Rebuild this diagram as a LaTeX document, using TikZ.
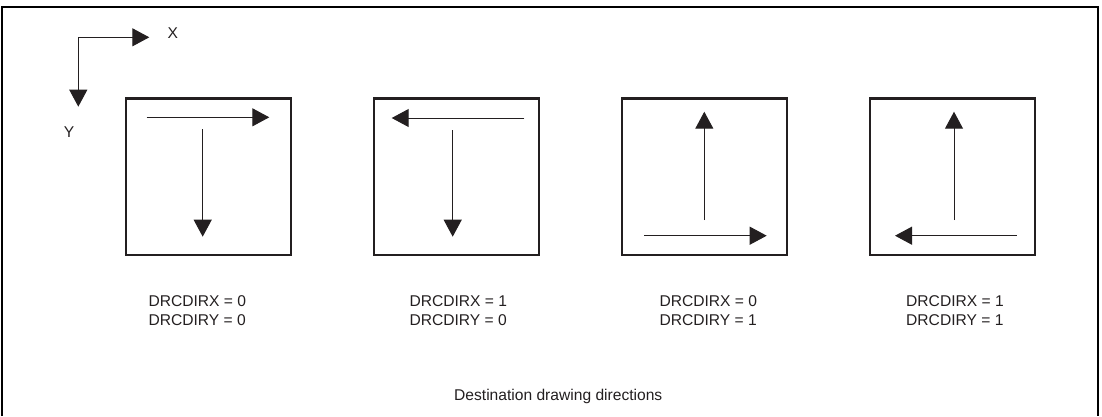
\documentclass[tikz,border=0pt]{standalone}
\usepackage{fontspec}
\setmainfont{Liberation Sans}
\usetikzlibrary{arrows.meta}
\definecolor{ink}{HTML}{231F20}
\begin{document}
\begin{tikzpicture}[x=1pt,y=-1pt,
  font=\fontsize{15.6pt}{18.3pt}\selectfont,
  every node/.style={text=ink},
  frame/.style={draw=black,line width=2.4pt},
  dirbox/.style={draw=ink,line width=2.4pt,inner sep=0pt,minimum width=165pt,minimum height=156.5pt},
  dirarrow/.style={draw=ink,line width=1pt,-{Triangle[length=17pt,width=18pt]}},
  lbl/.style={anchor=base west,inner sep=0pt}]
\useasboundingbox (0,0) rectangle (1102,416);
% outer frame (open at the bottom)
\draw[frame] (2,416) -- (2,7) -- (1098,7) -- (1098,416);
% axes
\coordinate (ax0) at (78.3,37.3);
\coordinate (axX) at (149.3,37.3);
\coordinate (axY) at (78.3,106.7);
\draw[dirarrow] (ax0) -- (axX);
\draw[dirarrow] (ax0) -- (axY);
\node[inner sep=0pt] (lx) at (172.7,33) {X};
\node[inner sep=0pt] (ly) at (69,131.7) {Y};
% boxes
\node[dirbox] (b1) at (208.3,176.7) {};
\node[dirbox] (b2) at (456.2,176.7) {};
\node[dirbox] (b3) at (704.2,176.7) {};
\node[dirbox] (b4) at (952.2,176.7) {};
% box 1
\coordinate (h1a) at (146.7,117.3); \coordinate (h1b) at (269.3,117.3);
\coordinate (v1a) at (202.7,129.3); \coordinate (v1b) at (202.7,236.7);
\draw[dirarrow] (h1a) -- (h1b);
\draw[dirarrow] (v1a) -- (v1b);
% box 2
\coordinate (h2a) at (524.3,118); \coordinate (h2b) at (391.7,118);
\coordinate (v2a) at (452.7,130); \coordinate (v2b) at (452.7,236.7);
\draw[dirarrow] (h2a) -- (h2b);
\draw[dirarrow] (v2a) -- (v2b);
% box 3
\coordinate (h3a) at (644.3,235.7); \coordinate (h3b) at (766.7,235.7);
\coordinate (v3a) at (704.3,220); \coordinate (v3b) at (704.3,111.7);
\draw[dirarrow] (h3a) -- (h3b);
\draw[dirarrow] (v3a) -- (v3b);
% box 4
\coordinate (h4a) at (1016.7,235.7); \coordinate (h4b) at (895,235.7);
\coordinate (v4a) at (954,220); \coordinate (v4b) at (954,111.7);
\draw[dirarrow] (h4a) -- (h4b);
\draw[dirarrow] (v4a) -- (v4b);
% labels
\node[lbl] (t1x) at (148.3,306.7) {DRCDIRX = 0};
\node[lbl] (t1y) at (148.3,325) {DRCDIRY = 0};
\node[lbl] (t2x) at (409.3,306.7) {DRCDIRX = 1};
\node[lbl] (t2y) at (409.3,325) {DRCDIRY = 0};
\node[lbl] (t3x) at (659.3,306.7) {DRCDIRX = 0};
\node[lbl] (t3y) at (659.3,325) {DRCDIRY = 1};
\node[lbl] (t4x) at (906,306.7) {DRCDIRX = 1};
\node[lbl] (t4y) at (906,325) {DRCDIRY = 1};
\node[lbl] (cap) at (454,400) {Destination drawing directions};
\end{tikzpicture}
\end{document}
